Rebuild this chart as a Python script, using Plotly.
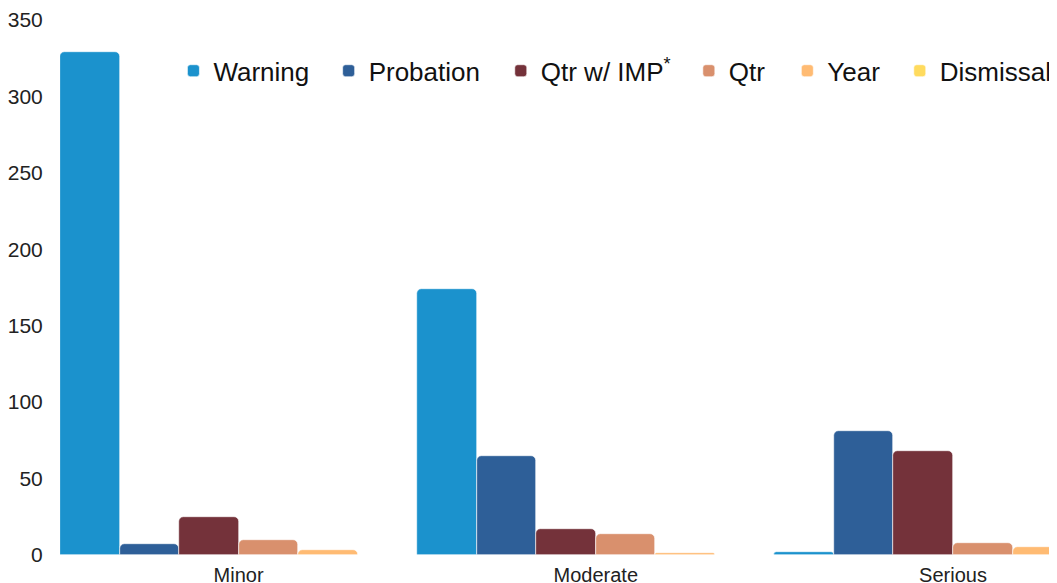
import plotly.graph_objects as go

# severity of violation
categories = ["Minor", "Moderate", "Serious"]

# number of sanctions per severity
warning = [329, 174, 2]
probation = [7, 65, 81]
qtr_imp = [25, 17, 68]
qtr = [10, 14, 8]
year = [3, 1, 5]
dismissal = [0, 0, 0]

series = [
    ("Warning", warning, "#1b92cd"),
    ("Probation", probation, "#2e5f98"),
    ("Qtr w/ IMP<sup>*</sup>", qtr_imp, "#74323a"),
    ("Qtr", qtr, "#d9906d"),
    ("Year", year, "#ffbb73"),
    ("Dismissal", dismissal, "#ffdb5e"),
]

# left edge of each legend entry, in figure pixels (one legend per trace so
# the spacing can follow the original)
legend_left = [166, 322, 495, 684, 783, 896]

L, W = 52, 997  # plot area left / width in figure pixels
BAND = 359      # px per category, wider than the plot so the last group runs off

fig = go.Figure()
layout_legends = {}
for i, (name, vals, color) in enumerate(series):
    key = "legend" if i == 0 else f"legend{i + 1}"
    fig.add_trace(go.Bar(
        x=categories, y=vals, name=name, legend=key,
        marker=dict(color=color, line=dict(color="white", width=0.6)),
    ))
    layout_legends[key] = dict(
        orientation="h", x=(legend_left[i] - L) / W, y=0.905,
        xanchor="left", yanchor="middle",
        font=dict(size=26, color="#111111"), bgcolor="rgba(0,0,0,0)",
        itemwidth=30,
    )

# page body has an 8px margin, so the figure is shrunk by 8px each way
fig.update_layout(
    width=1049, height=575,
    margin=dict(l=L, r=0, t=12, b=28),
    paper_bgcolor="white", plot_bgcolor="white",
    barmode="group", bargap=0, bargroupgap=0, barcornerradius=5,
    font=dict(family="Liberation Sans, Arial, sans-serif", color="#222222"),
    showlegend=True,
    xaxis=dict(
        range=[-0.5, -0.5 + W / BAND], showgrid=False, showline=False,
        zeroline=False, ticks="", ticklabelstandoff=6, automargin=False,
        tickfont=dict(size=20),
    ),
    yaxis=dict(
        range=[0, 350], dtick=50, showgrid=False, showline=False,
        zeroline=False, ticks="outside", ticklen=12, tickcolor="white",
        automargin=False, tickfont=dict(size=21),
    ),
    **layout_legends,
)

fig.write_html("out.html")
